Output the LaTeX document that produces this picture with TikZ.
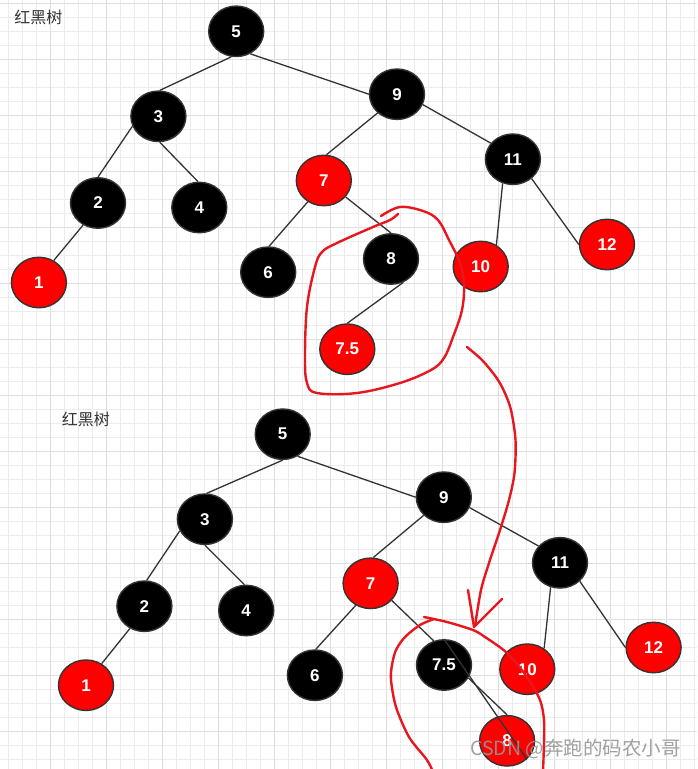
\documentclass[tikz,border=0pt]{standalone}
\usepackage{fontspec}
\setmainfont{Liberation Sans}
\newfontfamily\cjkfont{Noto Sans CJK SC}
\usepackage{tikz}
\usetikzlibrary{shapes.geometric}
\definecolor{rbred}{RGB}{255,0,0}
\definecolor{rbline}{RGB}{51,51,51}
\definecolor{inkred}{RGB}{232,22,30}
\definecolor{gminor}{RGB}{236,236,236}
\definecolor{gmajor}{RGB}{222,222,222}
\definecolor{wmark}{RGB}{150,150,150}
\tikzset{
  bnode/.style={ellipse, draw=rbline, line width=1.4pt, fill=black, text=white,
      minimum width=55pt, minimum height=50.5pt, inner sep=0pt,
      font=\fontsize{17}{17}\selectfont\bfseries},
  rnode/.style={bnode, fill=rbred},
  tedge/.style={rbline, line width=1.3pt},
  ink/.style={inkred, line width=2.4pt, line cap=round, line join=round},
  gl/.style={gminor, line width=1pt},
  gL/.style={gmajor, line width=1pt},
  ttl/.style={font=\cjkfont\fontsize{16}{16}\selectfont, text=rbline, inner sep=0pt},
}

\begin{document}
\begin{tikzpicture}[x=1pt, y=-1pt]
  \fill[white] (0,0) rectangle (697,769);
  \useasboundingbox (0,0) rectangle (697,769);
  \foreach \i in {0,...,49} \draw[gl] ({8.7+14*\i},0) -- ({8.7+14*\i},769);
  \foreach \i in {0,...,54} \draw[gl] (0,{3+14*\i}) -- (697,{3+14*\i});
  \foreach \i in {0,...,11} \draw[gL] ({50.7+56*\i},0) -- ({50.7+56*\i},769);
  \foreach \i in {0,...,13} \draw[gL] (0,{3+56*\i}) -- (697,{3+56*\i});

  \node[ttl] (h1) at (38.3,17) {红黑树};
  \node[ttl] (h2) at (85.8,419) {红黑树};

  % before
  \node[bnode] (t5) at (236.2,31.3) {5};
  \node[bnode] (t3) at (158.4,116.3) {3};
  \node[bnode] (t9) at (397,94.2) {9};
  \node[bnode] (t2) at (98,203) {2};
  \node[bnode] (t4) at (199.3,207.5) {4};
  \node[rnode] (t7) at (323.8,180.5) {7};
  \node[bnode] (t11) at (512.9,159.2) {11};
  \node[rnode] (t1) at (38.9,282.5) {1};
  \node[bnode] (t6) at (268.2,272.2) {6};
  \node[bnode] (t8) at (391,259) {8};
  \node[rnode] (t10) at (480.7,266.5) {10};
  \node[rnode] (t12) at (607,244.5) {12};
  \node[rnode] (t75) at (347.3,349.2) {7.5};
  \draw[tedge] (t5.259) -- (t3.87);
  \draw[tedge] (t5.302) -- (t9.west);
  \draw[tedge] (t3.201) -- (t2.north);
  \draw[tedge] (t3.273) -- (t4.93);
  \draw[tedge] (t9.224) -- (t7.84);
  \draw[tedge] (t9.338) -- (t11.144);
  \draw[tedge] (t2.236) -- (t1.56);
  \draw[tedge] (t7.233) -- (t6.88);
  \draw[tedge] (t7.323) -- (t8.north);
  \draw[tedge] (t11.247) -- (t10.54);
  \draw[tedge] (t11.314) -- (t12.west);
  \draw[tedge] (t8.298) -- (t75.north);

  % after
  \node[bnode] (b5) at (282.7,434.2) {5};
  \node[bnode] (b3) at (204.9,519.2) {3};
  \node[bnode] (b9) at (443.8,497.2) {9};
  \node[bnode] (b2) at (144.4,606.2) {2};
  \node[bnode] (b4) at (246.2,610.5) {4};
  \node[rnode] (b7) at (370.6,583.3) {7};
  \node[bnode] (b11) at (560,562.8) {11};
  \node[rnode] (b1) at (86,685.2) {1};
  \node[bnode] (b6) at (314.9,675.2) {6};
  \node[bnode] (b75) at (444,665) {7.5};
  \node[rnode] (b10) at (527.3,669.2) {10};
  \node[rnode] (b12) at (653.6,647.5) {12};
  \node[rnode] (b8) at (507.1,740.8) {8};
  \draw[tedge] (b5.south) -- (b3.86);
  \draw[tedge] (b5.304) -- (b9.west);
  \draw[tedge] (b3.205) -- (b2.85);
  \draw[tedge] (b3.south) -- (b4.94);
  \draw[tedge] (b9.222) -- (b7.84);
  \draw[tedge] (b9.338) -- (b11.142);
  \draw[tedge] (b2.237) -- (b1.54);
  \draw[tedge] (b7.236) -- (b6.88);
  \draw[tedge] (b7.321) -- (b75.113);
  \draw[tedge] (b11.249) -- (b10.51);
  \draw[tedge] (b11.317) -- (b12.west);
  \draw[tedge] (b75.332) -- (b8.north);
  \draw[tedge] (b75.north) -- (b8.317);

  % hand marks
  \draw[ink] plot[smooth, tension=0.6] coordinates {(381,216) (400,207) (423,211)
    (438,220) (449,240) (460,263) (464,284) (462,310) (453,337) (444,358) (431,370)
    (400,383) (357,393) (317,393) (307,383) (305,357) (307,307) (315,267) (322,252)
    (337,243) (373,227) (390,220) (398,214)};
  \draw[ink] plot[smooth] coordinates {(467,347) (482,360) (496,377) (504,391)
    (511,410) (515.5,440) (514.5,473) (509,500) (500,530) (489,563) (481,590) (475,626)};
  \draw[ink] (468,590) -- (474,627) -- (502,599);
  \draw[ink] plot[smooth] coordinates {(433,772) (427,760) (409,737) (396,707)
    (391,680) (392,665) (396,650) (405,637) (420,625) (434,619)};
  \draw[ink] plot[smooth] coordinates {(424,617) (447,622) (473,630) (485,637)
    (507,653) (527,677) (540,700) (544,720) (544,743) (543,772)};

  \node[anchor=west, inner sep=0pt, text=wmark, opacity=0.9,
    font=\cjkfont\fontsize{19.5}{19.5}\selectfont] (wm) at (470,749) {CSDN @奔跑的码农小哥};
\end{tikzpicture}
\end{document}
